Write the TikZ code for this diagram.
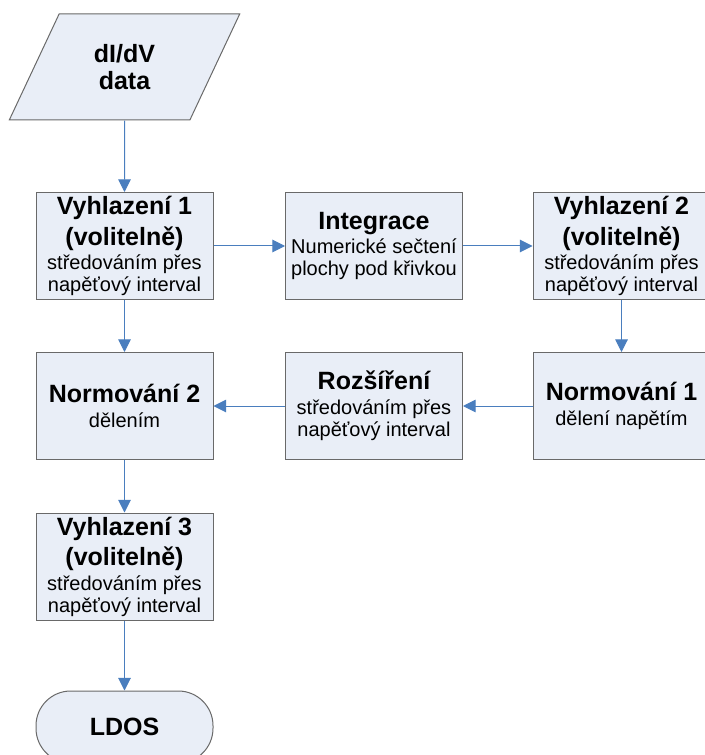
\documentclass[tikz,border=0pt]{standalone}
\usepackage{fontspec}
\setmainfont{Liberation Sans}
\usetikzlibrary{shapes.geometric,arrows.meta}
\definecolor{boxfill}{RGB}{233,238,247}
\definecolor{boxline}{RGB}{105,105,105}
\definecolor{flowblue}{RGB}{74,126,190}
\newcommand{\ttl}[1]{{\fontsize{18.75}{22.5}\selectfont\bfseries #1}}

\begin{document}
\begin{tikzpicture}[x = 0.75pt, y = -0.75pt, font = \fontsize{15}{16.5}\selectfont,
  box/.style = {draw = boxline, fill = boxfill, line width = 0.75pt, minimum width = 132.75pt, minimum height = 80.25pt, inner sep = 0pt, align = center},
  flow/.style = {draw = flowblue, line width = 0.75pt, -{Triangle[length = 9.5pt, width = 9.5pt]}}]
\useasboundingbox (0,0) rectangle (705,755);
% first column
\node [box, trapezium, trapezium left angle = 63, trapezium right angle = 117, trapezium stretches = true, minimum width = 174pt, minimum height = 79.5pt] (data) at (124.5,67) {\ttl{dI/dV}\\[4pt]\ttl{data}};
\node [box] (vyhl1) at (124.5,246) {\ttl{Vyhlazení 1}\\[4pt]\ttl{(volitelně)}\\[2pt]středováním přes\\napěťový interval};
\node [box] (norm2) at (124.5,406) {\ttl{Normování 2}\\[2pt]dělením};
\node [box] (vyhl3) at (124.5,566.5) {\ttl{Vyhlazení 3}\\[4pt]\ttl{(volitelně)}\\[2pt]středováním přes\\napěťový interval};
\node [box, minimum height = 54pt, rounded corners = 26pt] (ldos) at (124.5,727) {\ttl{LDOS}};
% second and third column
\node [box] (integ) at (374,246) {\ttl{Integrace}\\[2pt]Numerické sečtení\\plochy pod křivkou};
\node [box] (rozs) at (374,406) {\ttl{Rozšíření}\\[2pt]středováním přes\\napěťový interval};
\node [box] (vyhl2) at (621.5,246) {\ttl{Vyhlazení 2}\\[4pt]\ttl{(volitelně)}\\[2pt]středováním přes\\napěťový interval};
\node [box] (norm1) at (621.5,406) {\ttl{Normování 1}\\[2pt]dělení napětím};
% arrows
\draw [flow] (data) -- (vyhl1);
\draw [flow] (vyhl1) -- (integ);
\draw [flow] (integ) -- (vyhl2);
\draw [flow] (vyhl2) -- (norm1);
\draw [flow] (norm1) -- (rozs);
\draw [flow] (rozs) -- (norm2);
\draw [flow] (vyhl1) -- (norm2);
\draw [flow] (norm2) -- (vyhl3);
\draw [flow] (vyhl3) -- (ldos);
\end{tikzpicture}
\end{document}
